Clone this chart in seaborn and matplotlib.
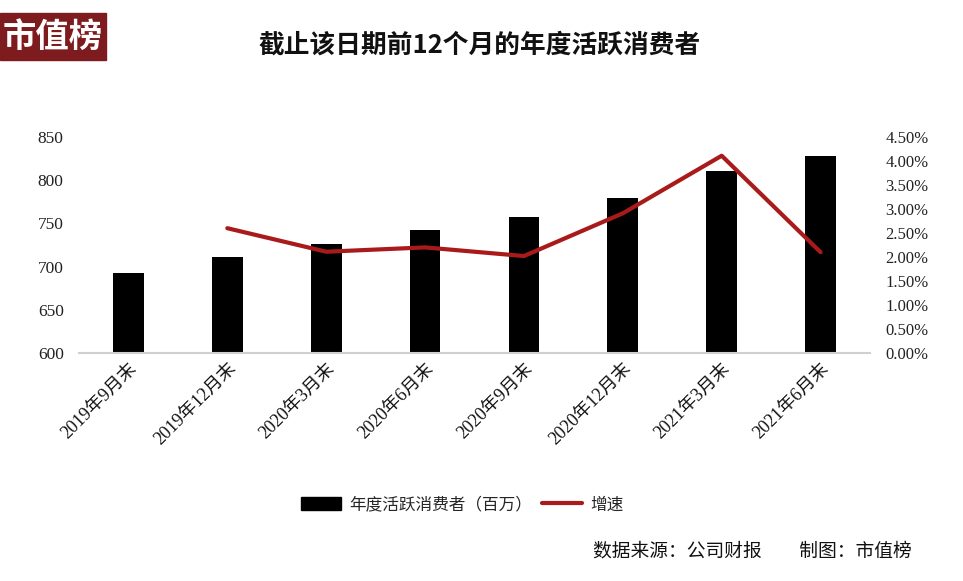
import numpy as np
import pandas as pd
import matplotlib
matplotlib.use("Agg")
import matplotlib.pyplot as plt
from matplotlib.patches import Patch, Rectangle
from matplotlib.lines import Line2D
from matplotlib.ticker import FuncFormatter, MultipleLocator
import seaborn as sns

categories = ["2019年9月末", "2019年12月末", "2020年3月末", "2020年6月末",
              "2020年9月末", "2020年12月末", "2021年3月末", "2021年6月末"]
consumers = [693, 711, 726, 742, 757, 779, 811, 828]
growth = [np.nan, 2.60, 2.11, 2.20, 2.02, 2.91, 4.11, 2.10]

title = "截止该日期前12个月的年度活跃消费者"
bar_label = "年度活跃消费者（百万）"
line_label = "增速"
footer = "数据来源：公司财报　　制图：市值榜"
logo = "市值榜"

sns.set_theme(style="white")
plt.rcParams["font.family"] = ["Noto Sans CJK SC", "DejaVu Sans"]
plt.rcParams["axes.unicode_minus"] = False

red = "#A91A1A"
serif = ["Liberation Serif", "Noto Sans CJK SC"]

df = pd.DataFrame({"cat": categories, "val": consumers, "g": growth})
df["idx"] = np.arange(len(df))

fig = plt.figure(figsize=(9.63, 5.81), dpi=100)
ax = fig.add_axes([79 / 963, 1 - 353 / 581, (870 - 79) / 963, (353 - 137) / 581])

sns.barplot(data=df, x="cat", y="val", color="black", width=0.31, ax=ax,
            saturation=1, edgecolor="black", linewidth=0)
ax.set_ylim(600, 850)
ax.set_xlim(-0.5, len(categories) - 0.5)
ax.yaxis.set_major_locator(MultipleLocator(50))
ax.set_xlabel("")
ax.set_ylabel("")
for s in ["top", "right", "left"]:
    ax.spines[s].set_visible(False)
ax.spines["bottom"].set_color("#d0d0d0")
ax.spines["bottom"].set_linewidth(1.5)
ax.tick_params(axis="y", length=0, pad=11, labelsize=12.5, colors="#222222")
ax.tick_params(axis="x", length=0, pad=5)
for lab in ax.get_yticklabels():
    lab.set_family(serif)
ax.set_xticks(range(len(categories)))
ax.set_xticklabels(categories, rotation=45, ha="right", rotation_mode="anchor",
                   fontsize=13, family=serif, color="#111111")

ax2 = ax.twinx()
sns.lineplot(data=df, x="idx", y="g", color=red, linewidth=3, ax=ax2)
ax2.set_ylim(0, 4.5)
ax2.set_xlim(-0.5, len(categories) - 0.5)
ax2.yaxis.set_major_locator(MultipleLocator(0.5))
ax2.yaxis.set_major_formatter(FuncFormatter(lambda v, p: f"{v:.2f}%"))
ax2.set_ylabel("")
ax2.set_xlabel("")
for s in ["top", "right", "left", "bottom"]:
    ax2.spines[s].set_visible(False)
ax2.tick_params(axis="y", length=0, pad=11, labelsize=12, colors="#222222")
for lab in ax2.get_yticklabels():
    lab.set_family(serif)
ax2.grid(False)
ax.grid(False)

# title
fig.text(480 / 963, 1 - 45 / 581, title, ha="center", va="center",
         fontsize=18.5, fontweight="bold", color="#111111")

# logo
fig.patches.append(Rectangle((0, 1 - 60 / 581), 106 / 963, 47 / 581,
                             transform=fig.transFigure, color="#7E1B1E", zorder=5))
fig.text(53 / 963, 1 - 37 / 581, logo, ha="center", va="center", fontsize=24,
         fontweight="bold", color="white", zorder=6)

# legend
handles = [Patch(facecolor="black", edgecolor="black", label=bar_label),
           Line2D([0], [0], color=red, linewidth=3, label=line_label)]
fig.legend(handles=handles, loc="center", bbox_to_anchor=(462 / 963, 1 - 505 / 581),
           ncol=2, frameon=False, fontsize=12, handlelength=2.4, handleheight=0.8,
           columnspacing=0.6, handletextpad=0.5)

# footer
fig.text(912 / 963, 1 - 551 / 581, footer, ha="right", va="center",
         fontsize=13.5, color="#111111")

fig.savefig("out.png", dpi=100)
